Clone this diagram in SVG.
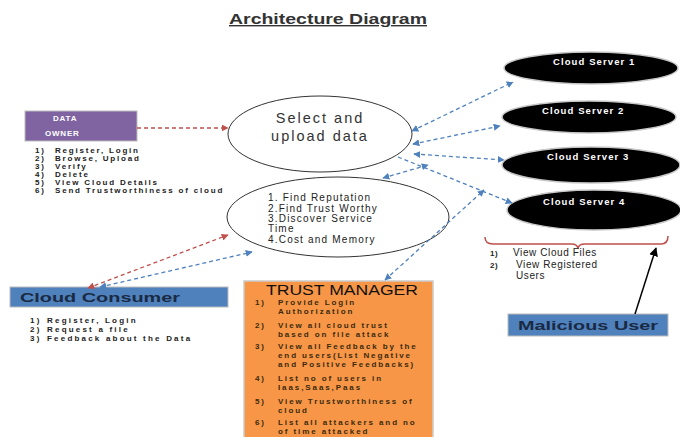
<svg xmlns="http://www.w3.org/2000/svg" width="680" height="437" viewBox="0 0 680 437">
<style>
text{font-family:"Liberation Sans",Arial,sans-serif}
.lst{font-size:8px;font-weight:bold;fill:#222;letter-spacing:1.8px}
.cc{letter-spacing:2.2px}
.tm{font-size:8px;font-weight:bold;fill:#3a2a10;letter-spacing:1.9px}
.srv{fill:#000;stroke:#c8c8c8;stroke-width:1.5}
.srvt{font-size:9.5px;font-weight:bold;fill:#fff;letter-spacing:1.1px}
.bl{fill:none;stroke:#4f81bd;stroke-width:1.3;stroke-dasharray:4 3}
.rd{fill:none;stroke:#c0504d;stroke-width:1.3;stroke-dasharray:4 3}
.ml{font-size:10px;fill:#222;letter-spacing:0.6px}
</style>
<defs>
<marker id="ab" viewBox="0 0 10 10" refX="9" refY="5" markerWidth="7" markerHeight="7" orient="auto-start-reverse" markerUnits="userSpaceOnUse"><path d="M0,0 L10,5 L0,10 z" fill="#4f81bd"/></marker>
<marker id="ar" viewBox="0 0 10 10" refX="9" refY="5" markerWidth="7" markerHeight="7" orient="auto-start-reverse" markerUnits="userSpaceOnUse"><path d="M0,0 L10,5 L0,10 z" fill="#c0504d"/></marker>
<marker id="ak" viewBox="0 0 10 10" refX="9" refY="5" markerWidth="9" markerHeight="9" orient="auto" markerUnits="userSpaceOnUse"><path d="M0,0 L10,5 L0,10 z" fill="#000"/></marker>
</defs>
<rect width="680" height="437" fill="#fff"/>
<text x="229" y="24" font-size="14" font-weight="bold" fill="#333" text-decoration="underline" textLength="198" lengthAdjust="spacingAndGlyphs">Architecture Diagram</text>

<g id="data-owner">
<rect x="25" y="111" width="112" height="30" fill="#8064a2" stroke="#bbb" stroke-width="1"/>
<text x="53" y="121" font-size="8" font-weight="bold" fill="#fff" letter-spacing="0.8">DATA</text>
<text x="45" y="136" font-size="8" font-weight="bold" fill="#fff" letter-spacing="0.8">OWNER</text>
<g class="lst">
<text x="35" y="153">1)</text><text x="55" y="153">Register, Login</text>
<text x="35" y="161">2)</text><text x="55" y="161">Browse, Upload</text>
<text x="35" y="169">3)</text><text x="55" y="169">Verify</text>
<text x="35" y="177">4)</text><text x="55" y="177">Delete</text>
<text x="35" y="185">5)</text><text x="55" y="185">View Cloud Details</text>
<text x="35" y="193">6)</text><text x="55" y="193">Send Trustworthiness of cloud</text>
</g>
</g>

<g id="select-upload">
<ellipse cx="320" cy="134" rx="92" ry="38" fill="#fff" stroke="#333" stroke-width="1"/>
<text x="320" y="123" font-size="14.5" fill="#333" text-anchor="middle" letter-spacing="2">Select and</text>
<text x="320" y="141" font-size="14.5" fill="#333" text-anchor="middle" letter-spacing="2">upload data</text>
</g>

<g id="reputation">
<ellipse cx="338" cy="217" rx="111" ry="40" fill="#fff" stroke="#333" stroke-width="1"/>
<g font-size="10" fill="#222" letter-spacing="1.2">
<text x="268" y="201">1. Find Reputation</text>
<text x="268" y="212">2.Find Trust Worthy</text>
<text x="268" y="222">3.Discover Service</text>
<text x="268" y="232">Time</text>
<text x="268" y="243">4.Cost and Memory</text>
</g>
</g>

<g id="cloud-server-1"><ellipse class="srv" cx="591" cy="68" rx="87" ry="16"/><text class="srvt" x="553" y="65">Cloud Server 1</text></g>
<g id="cloud-server-2"><ellipse class="srv" cx="589" cy="117" rx="87" ry="16"/><text class="srvt" x="542" y="114">Cloud Server 2</text></g>
<g id="cloud-server-3"><ellipse class="srv" cx="591" cy="165" rx="89" ry="18"/><text class="srvt" x="547" y="160">Cloud Server 3</text></g>
<g id="cloud-server-4"><ellipse class="srv" cx="594" cy="210" rx="87" ry="20"/><text class="srvt" x="543" y="205" font-size="10.5" letter-spacing="1.3">Cloud Server 4</text></g>

<g id="cloud-consumer">
<rect x="10" y="287" width="218" height="20" fill="#4f81bd" stroke="#bbb" stroke-width="1"/>
<text x="20" y="302" font-size="13" font-weight="bold" fill="#1a2a44" textLength="160" lengthAdjust="spacingAndGlyphs">Cloud Consumer</text>
<g class="lst cc">
<text x="30" y="323">1)</text><text x="47" y="323">Register, Login</text>
<text x="30" y="332">2)</text><text x="47" y="332">Request a file</text>
<text x="30" y="341">3)</text><text x="47" y="341">Feedback about the Data</text>
</g>
</g>

<g id="trust-manager">
<rect x="244" y="281" width="189" height="160" fill="#f79646" stroke="#ccc" stroke-width="1.5"/>
<text x="266" y="295" font-size="14" fill="#111" textLength="152" lengthAdjust="spacingAndGlyphs">TRUST MANAGER</text>
<g class="tm">
<text x="255" y="305">1)</text><text x="278" y="305">Provide Login</text><text x="278" y="314">Authorization</text>
<text x="255" y="328">2)</text><text x="278" y="328">View all cloud trust</text><text x="278" y="337">based on file attack</text>
<text x="255" y="349">3)</text><text x="278" y="349">View all Feedback by the</text><text x="278" y="358">end users(List Negative</text><text x="278" y="367">and Positive Feedbacks)</text>
<text x="255" y="381">4)</text><text x="278" y="381">List no of users in</text><text x="278" y="390">Iaas,Saas,Paas</text>
<text x="255" y="404">5)</text><text x="278" y="404">View Trustworthiness of</text><text x="278" y="413">cloud</text>
<text x="255" y="425">6)</text><text x="278" y="425">List all attackers and no</text><text x="278" y="434">of time attacked</text>
</g>
</g>

<g id="server-access">
<path d="M485,237 Q485,244 493,244 L571,244 Q578,244 578,249 Q578,244 585,244 L661,244 Q668,244 668,236" fill="none" stroke="#c0504d" stroke-width="1.5"/>
<g class="ml">
<text x="490" y="256" font-size="8" font-weight="bold">1)</text><text x="513" y="256">View Cloud Files</text>
<text x="490" y="268" font-size="8" font-weight="bold">2)</text><text x="516" y="268">View Registered</text>
<text x="516" y="279">Users</text>
</g>
</g>

<g id="malicious-user">
<rect x="508" y="314" width="160" height="22" fill="#4f81bd" stroke="#bbb" stroke-width="1"/>
<text x="518" y="330" font-size="13" font-weight="bold" fill="#1a2a44" textLength="140" lengthAdjust="spacingAndGlyphs">Malicious User</text>
</g>

<g id="connectors">
<line class="rd" x1="137" y1="128" x2="228" y2="128" marker-end="url(#ar)"/>
<line class="rd" x1="88" y1="288" x2="228" y2="235" marker-start="url(#ar)" marker-end="url(#ar)"/>
<line class="bl" x1="100" y1="287" x2="252" y2="252" marker-start="url(#ab)" marker-end="url(#ab)"/>
<line class="bl" x1="412" y1="131" x2="513" y2="82" marker-start="url(#ab)" marker-end="url(#ab)"/>
<line class="bl" x1="413" y1="144" x2="500" y2="126" marker-start="url(#ab)" marker-end="url(#ab)"/>
<line class="bl" x1="414" y1="154" x2="504" y2="160" marker-start="url(#ab)" marker-end="url(#ab)"/>
<line class="bl" x1="398" y1="157" x2="512" y2="203" marker-end="url(#ab)"/>
<line class="bl" x1="383" y1="178" x2="428" y2="165" marker-start="url(#ab)" marker-end="url(#ab)"/>
<line class="bl" x1="385" y1="280" x2="484" y2="190" marker-start="url(#ab)" marker-end="url(#ab)"/>
<line x1="635" y1="314" x2="656" y2="248" stroke="#000" stroke-width="1.5" marker-end="url(#ak)"/>
</g>
</svg>
